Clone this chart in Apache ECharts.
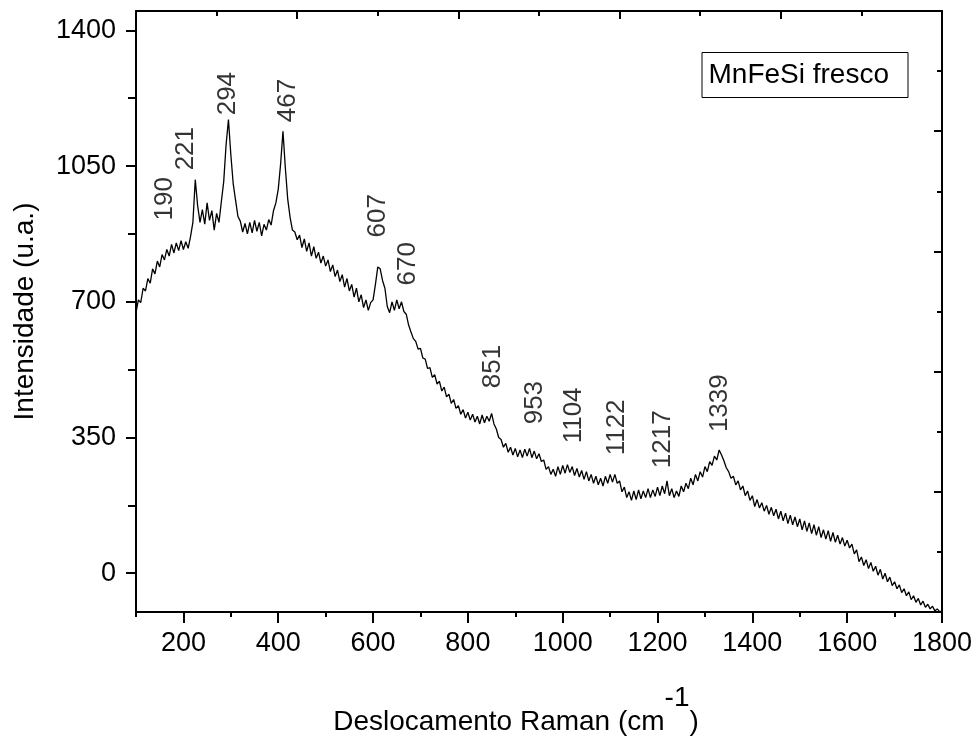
<!DOCTYPE html>
<html>
<head>
<meta charset="utf-8">
<script src="https://cdn.jsdelivr.net/npm/echarts@6/dist/echarts.min.js"></script>
<style>html,body{margin:0;padding:0;background:#fff}#c{width:978px;height:749px}</style>
</head>
<body>
<div id="c"></div>
<script>
const ramanShift = [100,105,110,115,120,125,130,135,140,145,150,155,160,165,170,175,180,185,190,195,
200,205,210,215,220,225,230,235,240,245,250,255,260,265,270,275,280,285,290,295,
300,305,310,315,320,325,330,335,340,345,350,355,360,365,370,375,380,385,390,395,
400,405,410,415,420,425,430,435,440,445,450,455,460,465,470,475,480,485,490,495,
500,505,510,515,520,525,530,535,540,545,550,555,560,565,570,575,580,585,590,595,
600,605,610,615,620,625,630,635,640,645,650,655,660,665,670,675,680,685,690,695,
700,705,710,715,720,725,730,735,740,745,750,755,760,765,770,775,780,785,790,795,
800,805,810,815,820,825,830,835,840,845,850,855,860,865,870,875,880,885,890,895,
900,905,910,915,920,925,930,935,940,945,950,955,960,965,970,975,980,985,990,995,
1000,1005,1010,1015,1020,1025,1030,1035,1040,1045,1050,1055,1060,1065,1070,1075,1080,1085,1090,1095,
1100,1105,1110,1115,1120,1125,1130,1135,1140,1145,1150,1155,1160,1165,1170,1175,1180,1185,1190,1195,
1200,1205,1210,1215,1220,1225,1230,1235,1240,1245,1250,1255,1260,1265,1270,1275,1280,1285,1290,1295,
1300,1305,1310,1315,1320,1325,1330,1335,1340,1345,1350,1355,1360,1365,1370,1375,1380,1385,1390,1395,
1400,1405,1410,1415,1420,1425,1430,1435,1440,1445,1450,1455,1460,1465,1470,1475,1480,1485,1490,1495,
1500,1505,1510,1515,1520,1525,1530,1535,1540,1545,1550,1555,1560,1565,1570,1575,1580,1585,1590,1595,
1600,1605,1610,1615,1620,1625,1630,1635,1640,1645,1650,1655,1660,1665,1670,1675,1680,1685,1690,1695,
1700,1705,1710,1715,1720,1725,1730,1735,1740,1745,1750,1755,1760,1765,1770,1775,1780,1785,1790,1795,
1800];
const intensity = [672,705,698,735,728,760,748,785,772,805,790,822,808,835,818,848,826,852,832,858,
835,855,838,868,905,1015,948,905,938,900,955,910,935,885,928,905,958,1010,1105,1170,
1080,1005,962,920,908,880,902,875,905,878,910,882,905,870,900,885,912,898,935,955,
990,1055,1140,1045,965,918,885,880,860,872,840,862,830,852,818,842,812,828,800,818,
792,808,778,795,765,782,752,770,738,760,728,745,712,735,700,718,685,705,678,698,
705,745,790,785,755,735,688,672,700,678,705,682,700,675,668,640,622,605,598,578,
580,555,552,528,530,505,512,488,495,470,480,455,462,438,448,425,432,410,422,400,
415,395,410,390,405,385,408,388,405,392,412,385,372,350,345,325,335,312,325,305,
322,300,318,298,320,302,322,298,315,295,308,288,292,268,275,255,268,250,275,255,
278,258,280,260,275,252,270,248,265,242,262,238,255,232,250,228,245,225,250,232,
255,235,255,232,238,210,222,195,210,188,212,190,215,192,212,195,218,195,215,198,
222,200,225,205,238,200,218,195,212,198,225,210,232,218,245,228,255,238,262,248,
275,262,288,278,302,292,318,305,290,272,262,245,250,228,238,215,225,200,212,188,
200,172,190,168,182,160,175,152,170,148,165,140,160,135,155,128,150,125,145,120,
140,112,135,108,130,102,125,98,120,92,112,88,110,82,105,80,98,75,92,70,
85,65,75,50,60,30,42,20,35,12,28,5,18,-5,10,-15,0,-22,-10,-32,
-22,-40,-30,-50,-40,-58,-48,-68,-58,-75,-65,-82,-72,-88,-80,-92,-85,-97,-92,-99,
-98];

const peakLabels = ['190','221','294','467','607','670','851','953','1104','1122','1217','1339'];
const peakLabelX = [161,205,294,421,610,674,853,942,1024,1115,1212,1332];
const peakLabelY = [910,1039,1181,1163,866,742,477,384,335,304,271,364];

const xTickLabels = [200,400,600,800,1000,1200,1400,1600,1800];
const xMinorTicks = [100,300,500,700,900,1100,1300,1500,1700];
const yTickLabels = [0,350,700,1050,1400];
const yMinorTicks = [175,525,875,1225];

const FONT = "'Liberation Sans', Arial, sans-serif";
const lineData = ramanShift.map((x, i) => [x, intensity[i]]);
const peakData = peakLabels.map((t, i) => ({value: [peakLabelX[i], peakLabelY[i]], name: t}));

const chart = echarts.init(document.getElementById('c'), null, {renderer: 'canvas'});
const axisLineStyle = {color: '#000', width: 2};
const plain = v => String(v);
chart.setOption({
  animation: false,
  backgroundColor: '#fff',
  textStyle: {fontFamily: FONT, color: '#000'},
  title: {
    text: 'MnFeSi fresco',
    right: 70, top: 52,
    borderColor: '#000', borderWidth: 1,
    padding: [9, 19, 9, 7],
    textStyle: {fontFamily: FONT, fontSize: 28, fontWeight: 'normal', color: '#000'}
  },
  grid: {left: 136, right: 36, top: 11, bottom: 137, containLabel: false},
  xAxis: [
    {
      type: 'value', position: 'bottom', min: 100, max: 1800,
      name: '{a|Deslocamento Raman (cm}{s|-1}{a|)}',
      nameLocation: 'middle', nameGap: 72,
      nameTextStyle: {padding: [0, 46, 0, 0], rich: {
        a: {fontFamily: FONT, fontSize: 28, color: '#000', lineHeight: 52, verticalAlign: 'bottom'},
        s: {fontFamily: FONT, fontSize: 28, color: '#000', lineHeight: 52, verticalAlign: 'top'}
      }},
      axisLine: {show: true, onZero: false, lineStyle: axisLineStyle},
      axisTick: {show: true, inside: false, length: 11, customValues: xTickLabels, lineStyle: {color: '#000', width: 2}},
      axisLabel: {show: true, customValues: xTickLabels, formatter: plain, margin: 18, fontSize: 27, color: '#000', fontFamily: FONT},
      splitLine: {show: false}
    },
    {
      type: 'value', position: 'top', min: 0, max: 10, interval: 2,
      axisLine: {show: true, onZero: false, lineStyle: axisLineStyle},
      axisTick: {show: true, inside: true, length: 8, lineStyle: {color: '#000', width: 2}},
      minorTick: {show: true, splitNumber: 2, length: 5, lineStyle: {color: '#000', width: 2}},
      axisLabel: {show: false}, splitLine: {show: false}
    },
    {
      type: 'value', position: 'bottom', offset: 0, min: 100, max: 1800,
      axisLine: {show: false, onZero: false},
      axisTick: {show: true, inside: false, length: 5, customValues: xMinorTicks, lineStyle: {color: '#000', width: 2}},
      axisLabel: {show: false}, splitLine: {show: false}
    }
  ],
  yAxis: [
    {
      type: 'value', position: 'left', min: -100, max: 1450,
      name: 'Intensidade (u.a.)', nameLocation: 'middle', nameGap: 97,
      nameTextStyle: {fontFamily: FONT, fontSize: 28, color: '#000'},
      axisLine: {show: true, onZero: false, lineStyle: axisLineStyle},
      axisTick: {show: true, inside: false, length: 10, customValues: yTickLabels, lineStyle: {color: '#000', width: 2}},
      axisLabel: {show: true, customValues: yTickLabels, formatter: plain, margin: 20, fontSize: 27, color: '#000', fontFamily: FONT},
      splitLine: {show: false}
    },
    {
      type: 'value', position: 'right', min: 0, max: 10, interval: 2,
      axisLine: {show: true, onZero: false, lineStyle: axisLineStyle},
      axisTick: {show: true, inside: true, length: 8, lineStyle: {color: '#000', width: 2}},
      minorTick: {show: true, splitNumber: 2, length: 5, lineStyle: {color: '#000', width: 2}},
      axisLabel: {show: false}, splitLine: {show: false}
    },
    {
      type: 'value', position: 'left', offset: 0, min: -100, max: 1450,
      axisLine: {show: false, onZero: false},
      axisTick: {show: true, inside: false, length: 8, customValues: yMinorTicks, lineStyle: {color: '#000', width: 2}},
      axisLabel: {show: false}, splitLine: {show: false}
    }
  ],
  series: [
    {
      type: 'line', xAxisIndex: 0, yAxisIndex: 0,
      data: lineData, showSymbol: false, symbol: 'none', sampling: 'none',
      lineStyle: {color: '#000', width: 1.3}, silent: true, z: 3
    },
    {
      type: 'scatter', xAxisIndex: 0, yAxisIndex: 0,
      data: peakData, symbolSize: 0, silent: true, z: 4,
      label: {
        show: true, formatter: p => p.name, position: [0, 0], rotate: 90,
        align: 'left', verticalAlign: 'middle',
        fontFamily: FONT, fontSize: 26, color: '#000'
      }
    }
  ]
});
</script>
</body>
</html>
